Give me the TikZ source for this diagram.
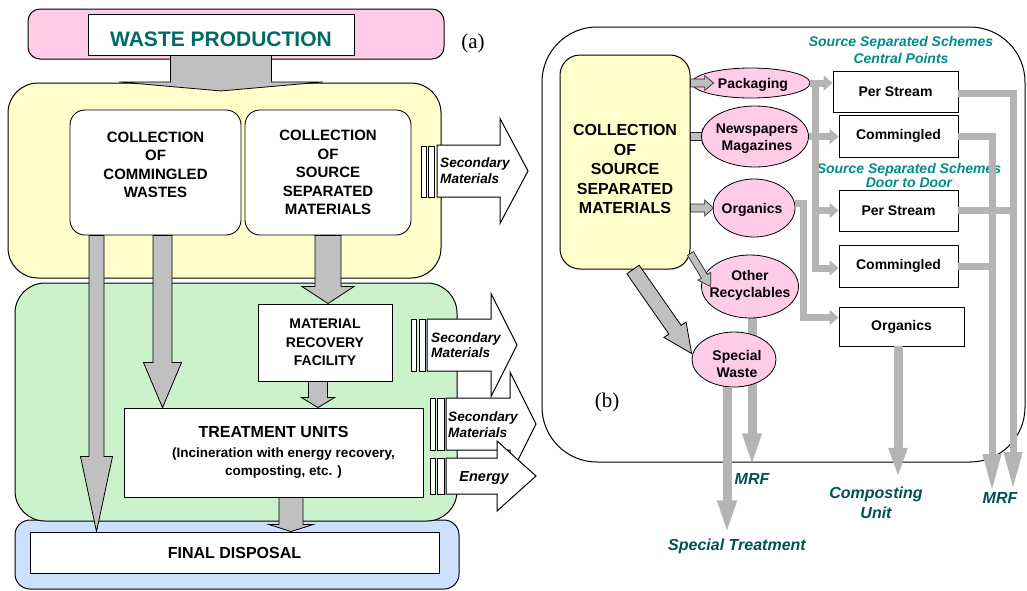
\documentclass[tikz,border=0pt]{standalone}
\usepackage{fontspec}
\setmainfont{Liberation Sans}
\newfontfamily\serifface{Liberation Serif}
\usetikzlibrary{calc,arrows.meta,shapes.geometric}
\definecolor{pinkbg}{HTML}{FFCCE8}
\definecolor{yellowbg}{HTML}{FFFFCC}
\definecolor{greenbg}{HTML}{CCF2CC}
\definecolor{bluebg}{HTML}{CCE0FF}
\definecolor{arrowgray}{HTML}{C0C0C0}
\definecolor{smallgray}{HTML}{BEBEBE}
\definecolor{conngray}{HTML}{B4B4B4}
\definecolor{tealA}{HTML}{006B66}
\definecolor{tealB}{HTML}{008C88}
\definecolor{tealC}{HTML}{00524F}
\pgfdeclarelayer{back}
\pgfdeclarelayer{mid}
\pgfsetlayers{back,mid,main}
% block arrow: [style]{start}{tip}{shaft half width}{head half width}{head length}
\newcommand\blockar[6][]{%
  \filldraw[#1] ($#2!#4!90:#3$) -- ($#3!#6!#2!#4!-90:#2$) -- ($#3!#6!#2!#5!-90:#2$) -- #3
   -- ($#3!#6!#2!#5!90:#2$) -- ($#3!#6!#2!#4!90:#2$) -- ($#2!#4!-90:#3$) -- cycle;}
\begin{document}
\begin{tikzpicture}[x=1pt,y=-1pt, line join=miter,
  sz/.style 2 args={minimum width=#1pt, minimum height=#2pt},
  panel/.style={draw=black, line width=1pt, inner sep=0pt},
  wbox/.style={draw=black, line width=0.9pt, fill=white, inner sep=0pt},
  ell/.style={ellipse, draw=black, line width=0.8pt, fill=pinkbg, inner sep=0pt},
  txt/.style 2 args={font=\bfseries\fontsize{#1}{#2}\selectfont, align=center, inner sep=0pt},
  itxt/.style 2 args={font=\bfseries\itshape\fontsize{#1}{#2}\selectfont, align=center, inner sep=0pt},
  serif/.style={font=\serifface\fontsize{21}{24}\selectfont, inner sep=0pt},
  garrow/.style={fill=arrowgray, draw=black, line width=0.8pt},
  warrow/.style={fill=white, draw=black, line width=1pt},
  sarrow/.style={fill=smallgray, draw=black!85, line width=0.7pt},
  bar/.style={fill=white, draw=black, line width=0.8pt},
  conn/.style={draw=conngray, line width=7pt},
  wconn/.style={draw=conngray, line width=9pt},
  tipS/.style={-{Triangle[width=15pt,length=9pt]}},
  tipL/.style={-{Triangle[width=17pt,length=#1pt]}},
  lbl/.style={itxt={16}{20}, text=tealC}]
\useasboundingbox (0,0) rectangle (1027,590);

% ---------------- (a) ----------------
\node[panel, fill=pinkbg, rounded corners=12pt, sz={416}{50}] (pinkp) at (236,34) {};
\node[wbox, sz={266}{41}] (wp) at (221,34.5) {};
\node[txt={21}{24}, text=tealA] (wpt) at (221,39) {WASTE PRODUCTION};
\node[serif] (la) at (473,43) {(a)};

\node[panel, fill=yellowbg, rounded corners=30pt, sz={433}{195}] (yel) at (224.5,180.5) {};
\node[panel, fill=bluebg, rounded corners=15pt, sz={444}{69}] (blu) at (237,554.5) {};
\node[panel, fill=greenbg, rounded corners=30pt, sz={442}{238}] (grn) at (236,402) {};

\node[wbox, rounded corners=15pt, sz={171}{125}] (cc) at (155.5,172.5) {};
\node[txt={15}{18.5}] (cct) at (155.5,165) {COLLECTION\\OF\\COMMINGLED\\WASTES};
\node[wbox, rounded corners=15pt, sz={166}{125}, txt={15}{18.5}] (cs) at (328,172.5) {COLLECTION\\OF\\SOURCE\\SEPARATED\\MATERIALS};
\node[wbox, sz={134}{77}, txt={14}{18.5}] (mrf) at (325,342.5) {MATERIAL\\RECOVERY\\FACILITY};
\node[wbox, sz={299}{89}, txt={13.5}{18}] (tu) at (273.5,452.5)
  {{\fontsize{16}{19}\selectfont TREATMENT UNITS}\\[2pt]\hspace*{20pt}(Incineration with energy recovery,\\\hspace*{20pt}composting, etc. )};
\node[wbox, sz={409}{41}, txt={16}{19}] (fd) at (234.5,552.5) {FINAL DISPOSAL};

\coordinate (a1s) at (wp.south);
\coordinate (a1e) at ($(wp.south)+(0,35.5)$);
\blockar[garrow]{(a1s)}{(a1e)}{50.5pt}{102pt}{9pt}
\coordinate (a2s) at ([xshift=-59pt]cc.south);
\coordinate (a2e) at (a2s |- fd.north);
\blockar[garrow]{(a2s)}{(a2e)}{7.5pt}{16pt}{75pt}
\coordinate (a3s) at ([xshift=7pt]cc.south);
\coordinate (a3e) at (a3s |- tu.north);
\blockar[garrow]{(a3s)}{(a3e)}{9.5pt}{19pt}{45pt}
\coordinate (a4s) at (cs.south);
\coordinate (a4e) at (cs.south |- mrf.north);
\blockar[garrow]{(a4s)}{(a4e)}{13pt}{26pt}{17pt}
\coordinate (a5s) at ([xshift=-7pt]mrf.south);
\coordinate (a5e) at (a5s |- tu.north);
\blockar[garrow]{(a5s)}{(a5e)}{9.5pt}{16.5pt}{10pt}
\coordinate (a6s) at ([xshift=17.5pt]tu.south);
\coordinate (a6e) at (a6s |- fd.north);
\blockar[garrow]{(a6s)}{(a6e)}{12pt}{22pt}{7pt}

% secondary outputs
\draw[bar] (421,146) rectangle (426.5,197);
\draw[bar] (428.5,146) rectangle (434,197);
\coordinate (sm1s) at (437,171);
\coordinate (sm1e) at (528,171);
\blockar[warrow]{(sm1s)}{(sm1e)}{26pt}{52.5pt}{28pt}
\node[itxt={13.6}{15.5}, align=left, anchor=west] (sm1t) at (440,170.5) {Secondary\\Materials};

\draw[bar] (411.7,319) rectangle (416.7,371);
\draw[bar] (419,319) rectangle (425,371);
\coordinate (sm2s) at (427,345);
\coordinate (sm2e) at (517,345);
\blockar[warrow]{(sm2s)}{(sm2e)}{26pt}{51.5pt}{26pt}
\node[itxt={13.6}{15.5}, align=left, anchor=west] (sm2t) at (431,345) {Secondary\\Materials};

\draw[bar] (430,398) rectangle (435,450);
\draw[bar] (437,398) rectangle (444,450);
\coordinate (sm3s) at (446,424);
\coordinate (sm3e) at (536,424);
\blockar[warrow]{(sm3s)}{(sm3e)}{26pt}{52pt}{26pt}
\node[itxt={13.6}{15.5}, align=left, anchor=west] (sm3t) at (448,424.5) {Secondary\\Materials};

\draw[bar] (430,458) rectangle (435,494);
\draw[bar] (437,458) rectangle (444,494);
\coordinate (ens) at (446,476);
\coordinate (ene) at (536,476);
\blockar[warrow]{(ens)}{(ene)}{18pt}{35pt}{39pt}
\node[itxt={14.5}{16}] (ent) at (484,478) {Energy};

% ---------------- (b) ----------------
\begin{pgfonlayer}{back}
\node[panel, rounded corners=55pt, sz={483}{435}] (frame) at (783.5,244.5) {};
\node[panel, fill=yellowbg, rounded corners=20pt, sz={130}{214}] (yb) at (625,162) {};
\end{pgfonlayer}
\node[serif] (lb) at (607,402) {(b)};
\node[txt={16}{19.5}] (ybt) at (625,169) {COLLECTION\\OF\\SOURCE\\SEPARATED\\MATERIALS};

\node[ell, sz={118}{30}] (pack) at (751,83) {};
\node[ell, sz={107}{61}] (news) at (755,136.5) {};
\node[ell, sz={82}{58}] (org) at (754,208) {};
\node[ell, sz={97}{63}] (other) at (750,286.5) {};
\node[ell, sz={84}{55}] (spec) at (734,359.5) {};
\node[txt={14}{17}] at (753,84.5) {Packaging};
\node[txt={14}{17}] at (757,139) {Newspapers\\Magazines};
\node[txt={14}{17}] at (752,209.5) {Organics};
\node[txt={14}{17}] at (750,285) {Other\\Recyclables};
\node[txt={14}{17}] at (737,364) {Special\\Waste};

\node[wbox, sz={125}{41}, txt={14}{17}] (ps1) at (895.5,91.5) {Per Stream};
\node[wbox, sz={119}{42}, txt={14}{17}] (cm1) at (898.5,136) {Commingled};
\node[wbox, sz={119}{41}, txt={14}{17}] (ps2) at (898.5,210.5) {Per Stream};
\node[wbox, sz={119}{42}, txt={14}{17}] (cm2) at (898.5,266) {Commingled};
\node[wbox, sz={125}{39}, txt={14}{17}] (ob) at (901.5,326.5) {Organics};

\node[itxt={14}{17}, text=tealB] (h1) at (901,49.5) {Source Separated Schemes\\Central Points};
\node[itxt={14}{14}, text=tealB] (h2) at (909,175) {Source Separated Schemes\\Door to Door};

% small arrows from the collection box
\begin{pgfonlayer}{mid}
\coordinate (r2s) at (yb.east |- news.west);
\coordinate (r2e) at ([xshift=10pt]news.west);
\blockar[sarrow]{(r2s)}{(r2e)}{4pt}{7.5pt}{9pt}
\coordinate (omt) at ([xshift=2pt,yshift=-149pt]other.south);
\draw[wconn, tipL=34] ([xshift=2pt]other.south) -- (omt);
\end{pgfonlayer}
\coordinate (r1s) at (yb.east |- pack.west);
\coordinate (r1e) at ([xshift=22pt]pack.west);
\blockar[sarrow]{(r1s)}{(r1e)}{4pt}{7.5pt}{9pt}
\coordinate (r3s) at (yb.east |- org.west);
\coordinate (r3e) at ([xshift=1pt]org.west);
\blockar[sarrow]{(r3s)}{(r3e)}{4pt}{8pt}{9pt}
\coordinate (r4s) at ([yshift=16pt]yb.south east);
\coordinate (r4e) at ([xshift=9.5pt]other.west);
\blockar[sarrow]{(r4s)}{(r4e)}{3.5pt}{7.5pt}{12pt}
\coordinate (r5s) at ([xshift=8pt]yb.south);
\coordinate (r5e) at ([yshift=6pt]spec.west);
\blockar[garrow]{(r5s)}{(r5e)}{7.5pt}{13.5pt}{29pt}

% connectors to the schemes
\coordinate (bus) at ([xshift=5pt]pack.east);
\draw[conn, tipS] (pack.east) -- (pack.east -| ps1.west);
\draw[conn, tipS] (bus) |- ([yshift=-2pt]cm2.west);
\draw[conn, tipS] (news.east) -- (news.east -| cm1.west);
\draw[conn, tipS] (bus |- ps2.west) -- (ps2.west);
\draw[conn, tipS] ([yshift=5pt]org.east) -- ++(8,0) |- ([yshift=9pt]ob.west);

\coordinate (mrfL) at (992,492);
\coordinate (mrfR) at (1013,490);
\draw[conn, tipL=38] ([yshift=-1.5pt]ps1.east) -| (mrfR);
\draw[conn] (ps2.east) -- ($(ps2.east -| mrfR)+(3.5,0)$);
\draw[conn, tipL=38] (cm1.east) -| (mrfL);
\draw[conn] (cm2.east) -- ($(cm2.east -| mrfL)+(3.5,0)$);
\coordinate (compt) at ([xshift=-3.5pt,yshift=-131.5pt]ob.south);
\draw[wconn, tipL=30] ([xshift=-3.5pt]ob.south) -- (compt);
\coordinate (stt) at ([xshift=-7pt,yshift=-148pt]spec.south);
\draw[wconn, tipL=35] ([xshift=-7pt]spec.south) -- (stt);

\node[lbl] (mrfm) at (752,479) {MRF};
\node[lbl] (stl) at (737,546) {Special Treatment};
\node[lbl] (cul) at (876,503) {Composting\\Unit};
\node[lbl] (mrfr) at (1000,498) {MRF};
\end{tikzpicture}
\end{document}
